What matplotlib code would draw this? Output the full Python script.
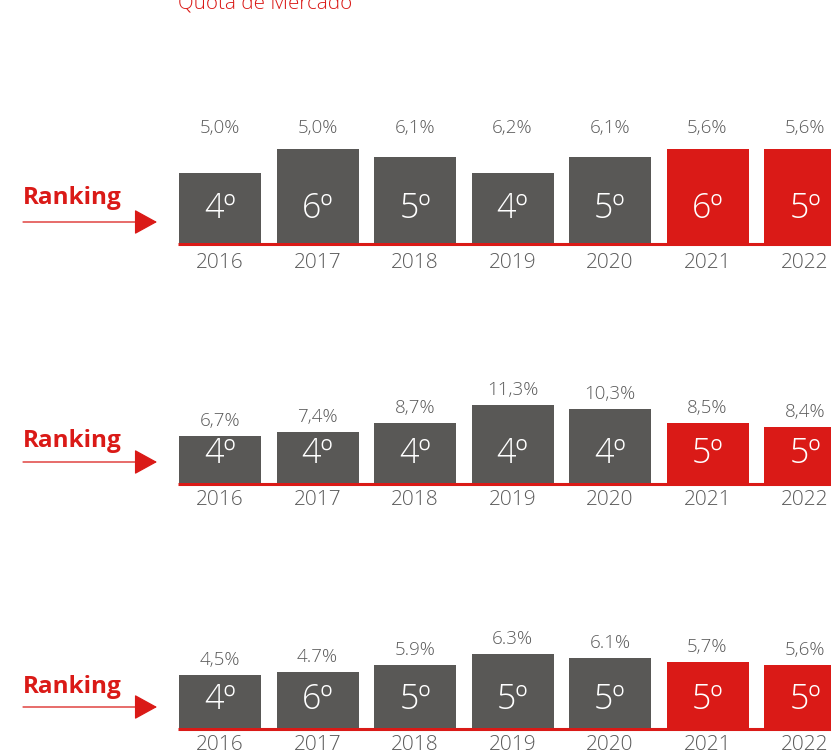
import matplotlib.pyplot as plt

plt.rcParams['font.family'] = ['Open Sans', 'DejaVu Sans']

W, H = 831, 753

years = ["2016", "2017", "2018", "2019", "2020", "2021", "2022"]

# panel 1
share_1 = ["5,0%", "5,0%", "6,1%", "6,2%", "6,1%", "5,6%", "5,6%"]
rank_1 = ["4º", "6º", "5º", "4º", "5º", "6º", "5º"]
height_1 = [70, 94, 86, 70, 86, 94, 94]

# panel 2
share_2 = ["6,7%", "7,4%", "8,7%", "11,3%", "10,3%", "8,5%", "8,4%"]
rank_2 = ["4º", "4º", "4º", "4º", "4º", "5º", "5º"]
height_2 = [47, 51, 60, 78, 74, 60, 56]

# panel 3
share_3 = ["4,5%", "4.7%", "5.9%", "6.3%", "6.1%", "5,7%", "5,6%"]
rank_3 = ["4º", "6º", "5º", "5º", "5º", "5º", "5º"]
height_3 = [53, 56, 63, 74, 70, 66, 63]

GRAY = "#595856"
RED = "#da1a17"
TXT = "#5a5a5a"

fig = plt.figure(figsize=(W / 100, H / 100), dpi=100)

fig.text(178 / W, 1 - 8 / H, "Quota de Mercado", color=RED, fontsize=14.8,
         fontweight="light", ha="left", va="baseline")

step = 97.5
x0 = 220
# baseline px, labels, ranks, heights, fixed label row, rank y, year y, "Ranking" y
panels = [
    (243, share_1, rank_1, height_1, True, 34, 20, 45),
    (483, share_2, rank_2, height_2, False, 29, 17, 42),
    (728, share_3, rank_3, height_3, False, 28, 17, 41),
]

for base, share, rank, height, fixed, rank_y, year_y, lab_y in panels:
    ax = fig.add_axes([171 / W, 1 - (base + 30) / H, 660 / W, 160 / H])
    ax.set_xlim((171 - x0) / step, (831 - x0) / step)
    ax.set_ylim(-30, 130)
    ax.axis("off")

    x = list(range(len(years)))
    colors = [GRAY] * 5 + [RED] * 2
    ax.hlines(-1, (178 - x0) / step, 7, color=RED, lw=2.2, zorder=1)
    ax.bar(x, height, width=82 / step, color=colors, zorder=2)

    for i in x:
        ax.text(i, rank_y, rank[i], color="white", fontsize=24.5,
                fontweight="light", ha="center", va="center", zorder=3)
        ax.text(i, -year_y, years[i], color=TXT, fontsize=15,
                fontweight="light", ha="center", va="center", clip_on=False)
        ly = 115 if fixed else height[i] + 15
        ax.text(i, ly, share[i], color=TXT, fontsize=13.5,
                fontweight="light", ha="center", va="center", clip_on=False)

    # Ranking marker at the left
    fig.text(23 / W, 1 - (base - lab_y) / H, "Ranking", color=RED,
             fontsize=17.5, fontweight="bold", ha="left", va="center")
    ay = 1 - (base - 21) / H
    ax.annotate("", xy=(157 / W, ay), xytext=(23 / W, ay),
                xycoords="figure fraction", textcoords="figure fraction",
                annotation_clip=False,
                arrowprops=dict(arrowstyle="-|>,head_length=1.0,head_width=0.55",
                                mutation_scale=14.5, color=RED, lw=0.9,
                                shrinkA=0, shrinkB=0))

fig.savefig("out.png", dpi=100)
